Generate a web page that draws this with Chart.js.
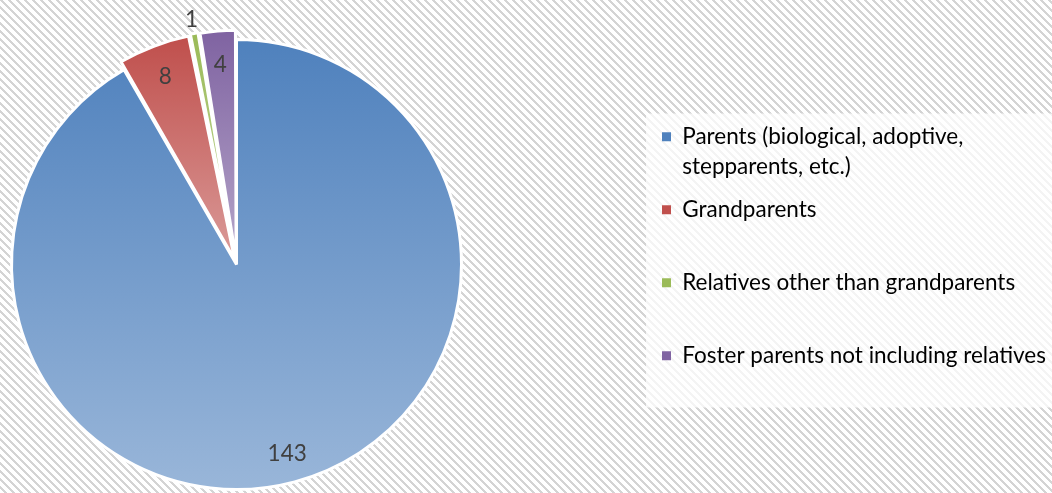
<!DOCTYPE html>
<html>
<head>
<meta charset="utf-8">
<title>Caregivers</title>
<script src="https://cdn.jsdelivr.net/npm/chart.js@4.4.1/dist/chart.umd.min.js"></script>
<style>
  html, body { margin: 0; padding: 0; width: 1052px; height: 493px; overflow: hidden; background-color: #fff; }
  #wrap { position: relative; width: 1052px; height: 493px; overflow: hidden; }
  #pie { position: absolute; left: -175px; top: -10px; }
</style>
</head>
<body>
<div id="wrap"><canvas id="pie" width="1275" height="550"></canvas></div>
<script>
const categories = [
  'Parents (biological, adoptive, stepparents, etc.)',
  'Grandparents',
  'Relatives other than grandparents',
  'Foster parents not including relatives'
];
const counts = [143, 8, 1, 4];
const baseColors = ['#4f81bd', '#c0504d', '#9bbb59', '#8064a2'];
const explode = [0, 20, 20, 20];

const legendFont = { size: 22.5, lineHeight: '29.5px' };
const legendPad = 14;
const legendBox = 9;
const legendLeft = 823; // canvas x where the legend column begins

// light diagonal hatch behind everything
function hatchBackground() {
  const tile = document.createElement('canvas');
  tile.width = 8;
  tile.height = 8;
  const tctx = tile.getContext('2d');
  tctx.fillStyle = '#ffffff';
  tctx.fillRect(0, 0, 8, 8);
  tctx.fillStyle = '#d4d4d4';
  for (let y = 0; y < 8; y++) {
    for (let x = 0; x < 8; x++) {
      if ((x - y + 16) % 8 < 3) tctx.fillRect(x, y, 1, 1);
    }
  }
  document.getElementById('wrap').style.backgroundImage = `url(${tile.toDataURL()})`;
}

function tint(hex, amount) {
  const n = parseInt(hex.slice(1), 16);
  const mix = c => Math.round(c + (255 - c) * amount);
  return `rgb(${mix(n >> 16)}, ${mix((n >> 8) & 255)}, ${mix(n & 255)})`;
}

// vertical gradient over each wedge, darker at its top
function sliceFill(context) {
  const base = baseColors[context.dataIndex];
  const arc = context.element;
  if (!arc || !arc.outerRadius) return base;
  const {x, y, startAngle, endAngle, outerRadius} = arc;
  let top = y;
  let bottom = y;
  for (let a = startAngle; a <= endAngle; a += 0.01) {
    const yy = y + Math.sin(a) * outerRadius;
    top = Math.min(top, yy);
    bottom = Math.max(bottom, yy);
  }
  const g = context.chart.ctx.createLinearGradient(0, top, 0, bottom);
  g.addColorStop(0, base);
  g.addColorStop(1, tint(base, 0.42));
  return g;
}

function wrapLabel(text, maxChars) {
  const lines = [];
  let line = '';
  text.split(' ').forEach(word => {
    const next = line ? line + ' ' + word : word;
    if (next.length > maxChars && line) {
      lines.push(line);
      line = word;
    } else {
      line = next;
    }
  });
  lines.push(line);
  while (lines.length < 2) lines.push('');
  return lines;
}

const legendLines = categories.map(name => wrapLabel(name, 40));

// right padding so the legend column starts at legendLeft without being clipped
function legendRightPadding(canvas) {
  const mctx = canvas.getContext('2d');
  mctx.font = `${legendFont.size}px Lato`;
  let widest = 0;
  legendLines.flat().forEach(t => { widest = Math.max(widest, mctx.measureText(t).width); });
  const legendWidth = legendPad + legendBox + legendFont.size / 2 + widest + 10;
  return Math.max(canvas.width - legendLeft - legendWidth, 0);
}

const legendPanel = {
  id: 'legendPanel',
  beforeDraw(chart) {
    const {ctx, legend, chartArea} = chart;
    const cy = (chartArea.top + chartArea.bottom) / 2;
    ctx.save();
    ctx.fillStyle = 'rgba(255, 255, 255, 0.75)';
    ctx.fillRect(legend.left - 2, cy - 151, chart.width - legend.left + 2, 294);
    ctx.restore();
  }
};

const sliceLabels = {
  id: 'sliceLabels',
  afterDatasetsDraw(chart) {
    const {ctx} = chart;
    const meta = chart.getDatasetMeta(0);
    ctx.save();
    ctx.font = '22.5px Lato';
    ctx.fillStyle = '#404040';
    ctx.textAlign = 'center';
    ctx.textBaseline = 'middle';
    meta.data.forEach((arc, i) => {
      const {x, y, startAngle, endAngle, outerRadius} =
        arc.getProps(['x', 'y', 'startAngle', 'endAngle', 'outerRadius'], true);
      const mid = (startAngle + endAngle) / 2;
      const shift = (arc.options.offset || 0) / 4;
      const narrow = endAngle - startAngle < 0.1;
      const r = shift + (narrow ? outerRadius + 19 : outerRadius * 0.87);
      ctx.fillText(String(counts[i]), x + Math.cos(mid) * r, y + Math.sin(mid) * r);
    });
    ctx.restore();
  }
};

hatchBackground();

Chart.defaults.font.family = 'Lato';

const canvas = document.getElementById('pie');
const chart = new Chart(canvas, {
  type: 'pie',
  data: {
    labels: categories,
    datasets: [{
      data: counts,
      backgroundColor: sliceFill,
      borderColor: '#ffffff',
      borderWidth: 3,
      offset: explode,
      radius: 225,
      clip: false
    }]
  },
  options: {
    responsive: false,
    animation: false,
    events: [],
    layout: { padding: { left: 0, right: legendRightPadding(canvas), top: 30, bottom: 31 } },
    plugins: {
      tooltip: { enabled: false },
      legend: {
        position: 'right',
        align: 'center',
        labels: {
          boxWidth: legendBox,
          boxHeight: legendBox,
          padding: legendPad,
          color: '#595959',
          font: legendFont,
          generateLabels: () => categories.map((name, i) => ({
            text: legendLines[i],
            fillStyle: baseColors[i],
            strokeStyle: baseColors[i],
            lineWidth: 0,
            hidden: false,
            index: i
          }))
        }
      }
    }
  },
  plugins: [legendPanel, sliceLabels]
});

// second pass so the wedge gradients can use the laid-out geometry
chart.update();
</script>
</body>
</html>
